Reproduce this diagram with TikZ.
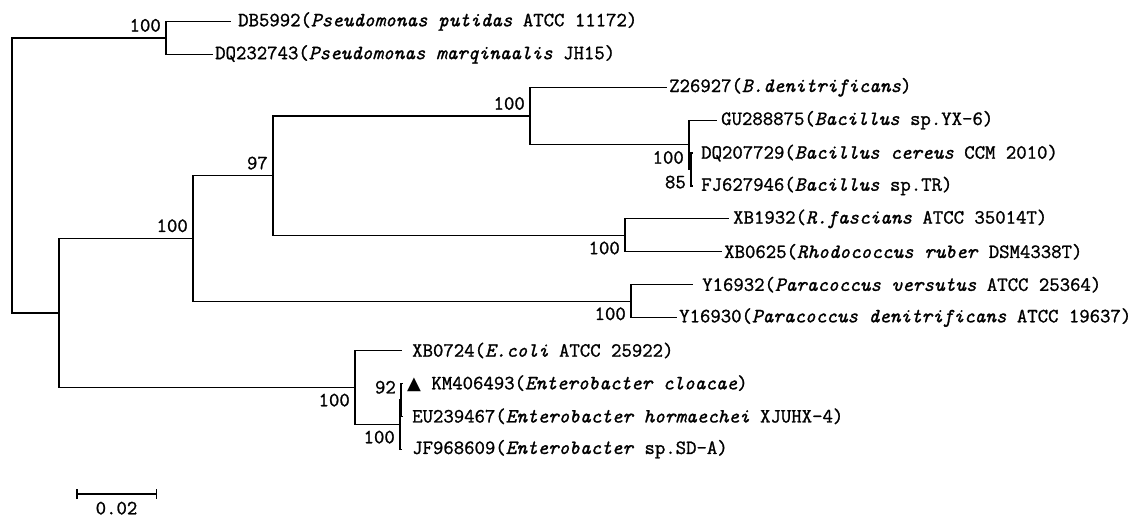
\documentclass[tikz,border=0pt]{standalone}
\usepackage{fontspec}
\setmonofont{Latin Modern Mono}[FakeBold=1.2]
\newfontfamily\trifont{DejaVu Sans}
\usetikzlibrary{arrows.meta}

\begin{document}
\begin{tikzpicture}[
    x=1pt, y=-1pt,
    font=\ttfamily\fontsize{20.2}{22}\selectfont,
    branch/.style={line width=1.2pt},
    taxon/.style={anchor=west, inner xsep=#1, inner ysep=0pt},
    taxon/.default=2pt,
    bsup/.style={above left, inner xsep=5pt, inner ysep=6pt},
    bsdn/.style={below left, inner xsep=5pt, inner ysep=6pt}
]
    \useasboundingbox (0,0) rectangle (1142,518);

    % internal nodes
    \coordinate (root) at (12,175.5);
    \coordinate (P) at (166,38);
    \coordinate (B) at (59,313);
    \coordinate (C) at (193,238.4);
    \coordinate (D) at (273,175.7);
    \coordinate (E) at (530,116.1);
    \coordinate (Bac) at (689,144.9);
    \coordinate (Bin) at (691,169.5);
    \coordinate (Rh) at (625,235.4);
    \coordinate (Pa) at (631,301.2);
    \coordinate (Ent) at (355,387.5);
    \coordinate (Eout) at (400,424.5);
    \coordinate (Ein) at (401,399.9);

    % taxa
    \node[taxon=7pt] (db5992) at (231,21.5) {DB5992(\textit{Pseudomonas putidas} ATCC 11172)};
    \node[taxon] (dq232743) at (213,54.4) {DQ232743(\textit{Pseudomonas marqinaalis} JH15)};
    \node[taxon] (z26927) at (667,87.3) {Z26927(\textit{B.denitrificans})};
    \node[taxon=4pt] (gu288875) at (717,120.2) {GU288875(\textit{Bacillus} sp.YX-6)};
    \node[taxon=8pt] (dq207729) at (693,153.1) {DQ207729(\textit{Bacillus cereus} CCM 2010)};
    \node[taxon=8pt] (fj627946) at (693,186) {FJ627946(\textit{Bacillus} sp.TR)};
    \node[taxon=4pt] (xb1932) at (729,218.9) {XB1932(\textit{R.fascians} ATCC 35014T)};
    \node[taxon] (xb0625) at (722,251.8) {XB0625(\textit{Rhodococcus ruber} DSM4338T)};
    \node[taxon=9pt] (y16932) at (693,284.7) {Y16932(\textit{Paracoccus versutus} ATCC 25364)};
    \node[taxon] (y16930) at (677,317.6) {Y16930(\textit{Paracoccus denitrificans} ATCC 19637)};
    \node[taxon=10pt] (xb0724) at (402,350.5) {XB0724(\textit{E.coli} ATCC 25922)};
    \node[taxon=4pt] (km406493) at (403,383.4) {{\trifont\fontsize{18}{18}\selectfont ▲} KM406493(\textit{Enterobacter cloacae})};
    \node[taxon=9pt] (eu239467) at (403,416.3) {EU239467(\textit{Enterobacter hormaechei} XJUHX-4)};
    \node[taxon=10pt] (jf968609) at (402,449.2) {JF968609(\textit{Enterobacter} sp.SD-A)};

    % branches
    \draw[branch] (root) |- (P);
    \draw[branch] (root) |- (B);
    \draw[branch] (P) |- (db5992.west);
    \draw[branch] (P) |- (dq232743.west);
    \draw[branch] (B) |- (C);
    \draw[branch] (B) |- (Ent);
    \draw[branch] (C) |- (D);
    \draw[branch] (C) |- (Pa);
    \draw[branch] (D) |- (E);
    \draw[branch] (D) |- (Rh);
    \draw[branch] (E) |- (z26927.west);
    \draw[branch] (E) |- (Bac);
    \draw[branch] (Bac) |- (gu288875.west);
    \draw[branch] (Bac) |- (Bin);
    \draw[branch] (Bin) |- (dq207729.west);
    \draw[branch] (Bin) |- (fj627946.west);
    \draw[branch] (Rh) |- (xb1932.west);
    \draw[branch] (Rh) |- (xb0625.west);
    \draw[branch] (Pa) |- (y16932.west);
    \draw[branch] (Pa) |- (y16930.west);
    \draw[branch] (Ent) |- (xb0724.west);
    \draw[branch] (Ent) |- (Eout);
    \draw[branch] (Eout) |- (Ein);
    \draw[branch] (Eout) |- (jf968609.west);
    \draw[branch] (Ein) |- (km406493.west);
    \draw[branch] (Ein) |- (eu239467.west);

    % bootstrap values
    \node[bsup] (bsP) at (P) {100};
    \node[bsup] (bsC) at (C) {100};
    \node[bsup] (bsD) at (D) {97};
    \node[bsup] (bsE) at (E) {100};
    \node[bsdn] (bsBac) at (Bac) {100};
    \node[bsdn] (bsBin) at (Bin) {85};
    \node[bsdn] (bsRh) at (Rh) {100};
    \node[bsdn] (bsPa) at (Pa) {100};
    \node[bsdn] (bsEnt) at (Ent) {100};
    \node[bsup] (bsEin) at (Ein) {92};
    \node[bsdn] (bsEout) at (Eout) {100};

    % scale bar
    \coordinate (sbl) at (76,494);
    \coordinate (sbr) at (157,494);
    \draw[line width=1.5pt, {Bar[width=10pt]}-{Bar[width=10pt]}] (sbl) -- (sbr)
        node[midway, below=7pt, inner sep=0pt] (sblabel) {0.02};
\end{tikzpicture}
\end{document}
